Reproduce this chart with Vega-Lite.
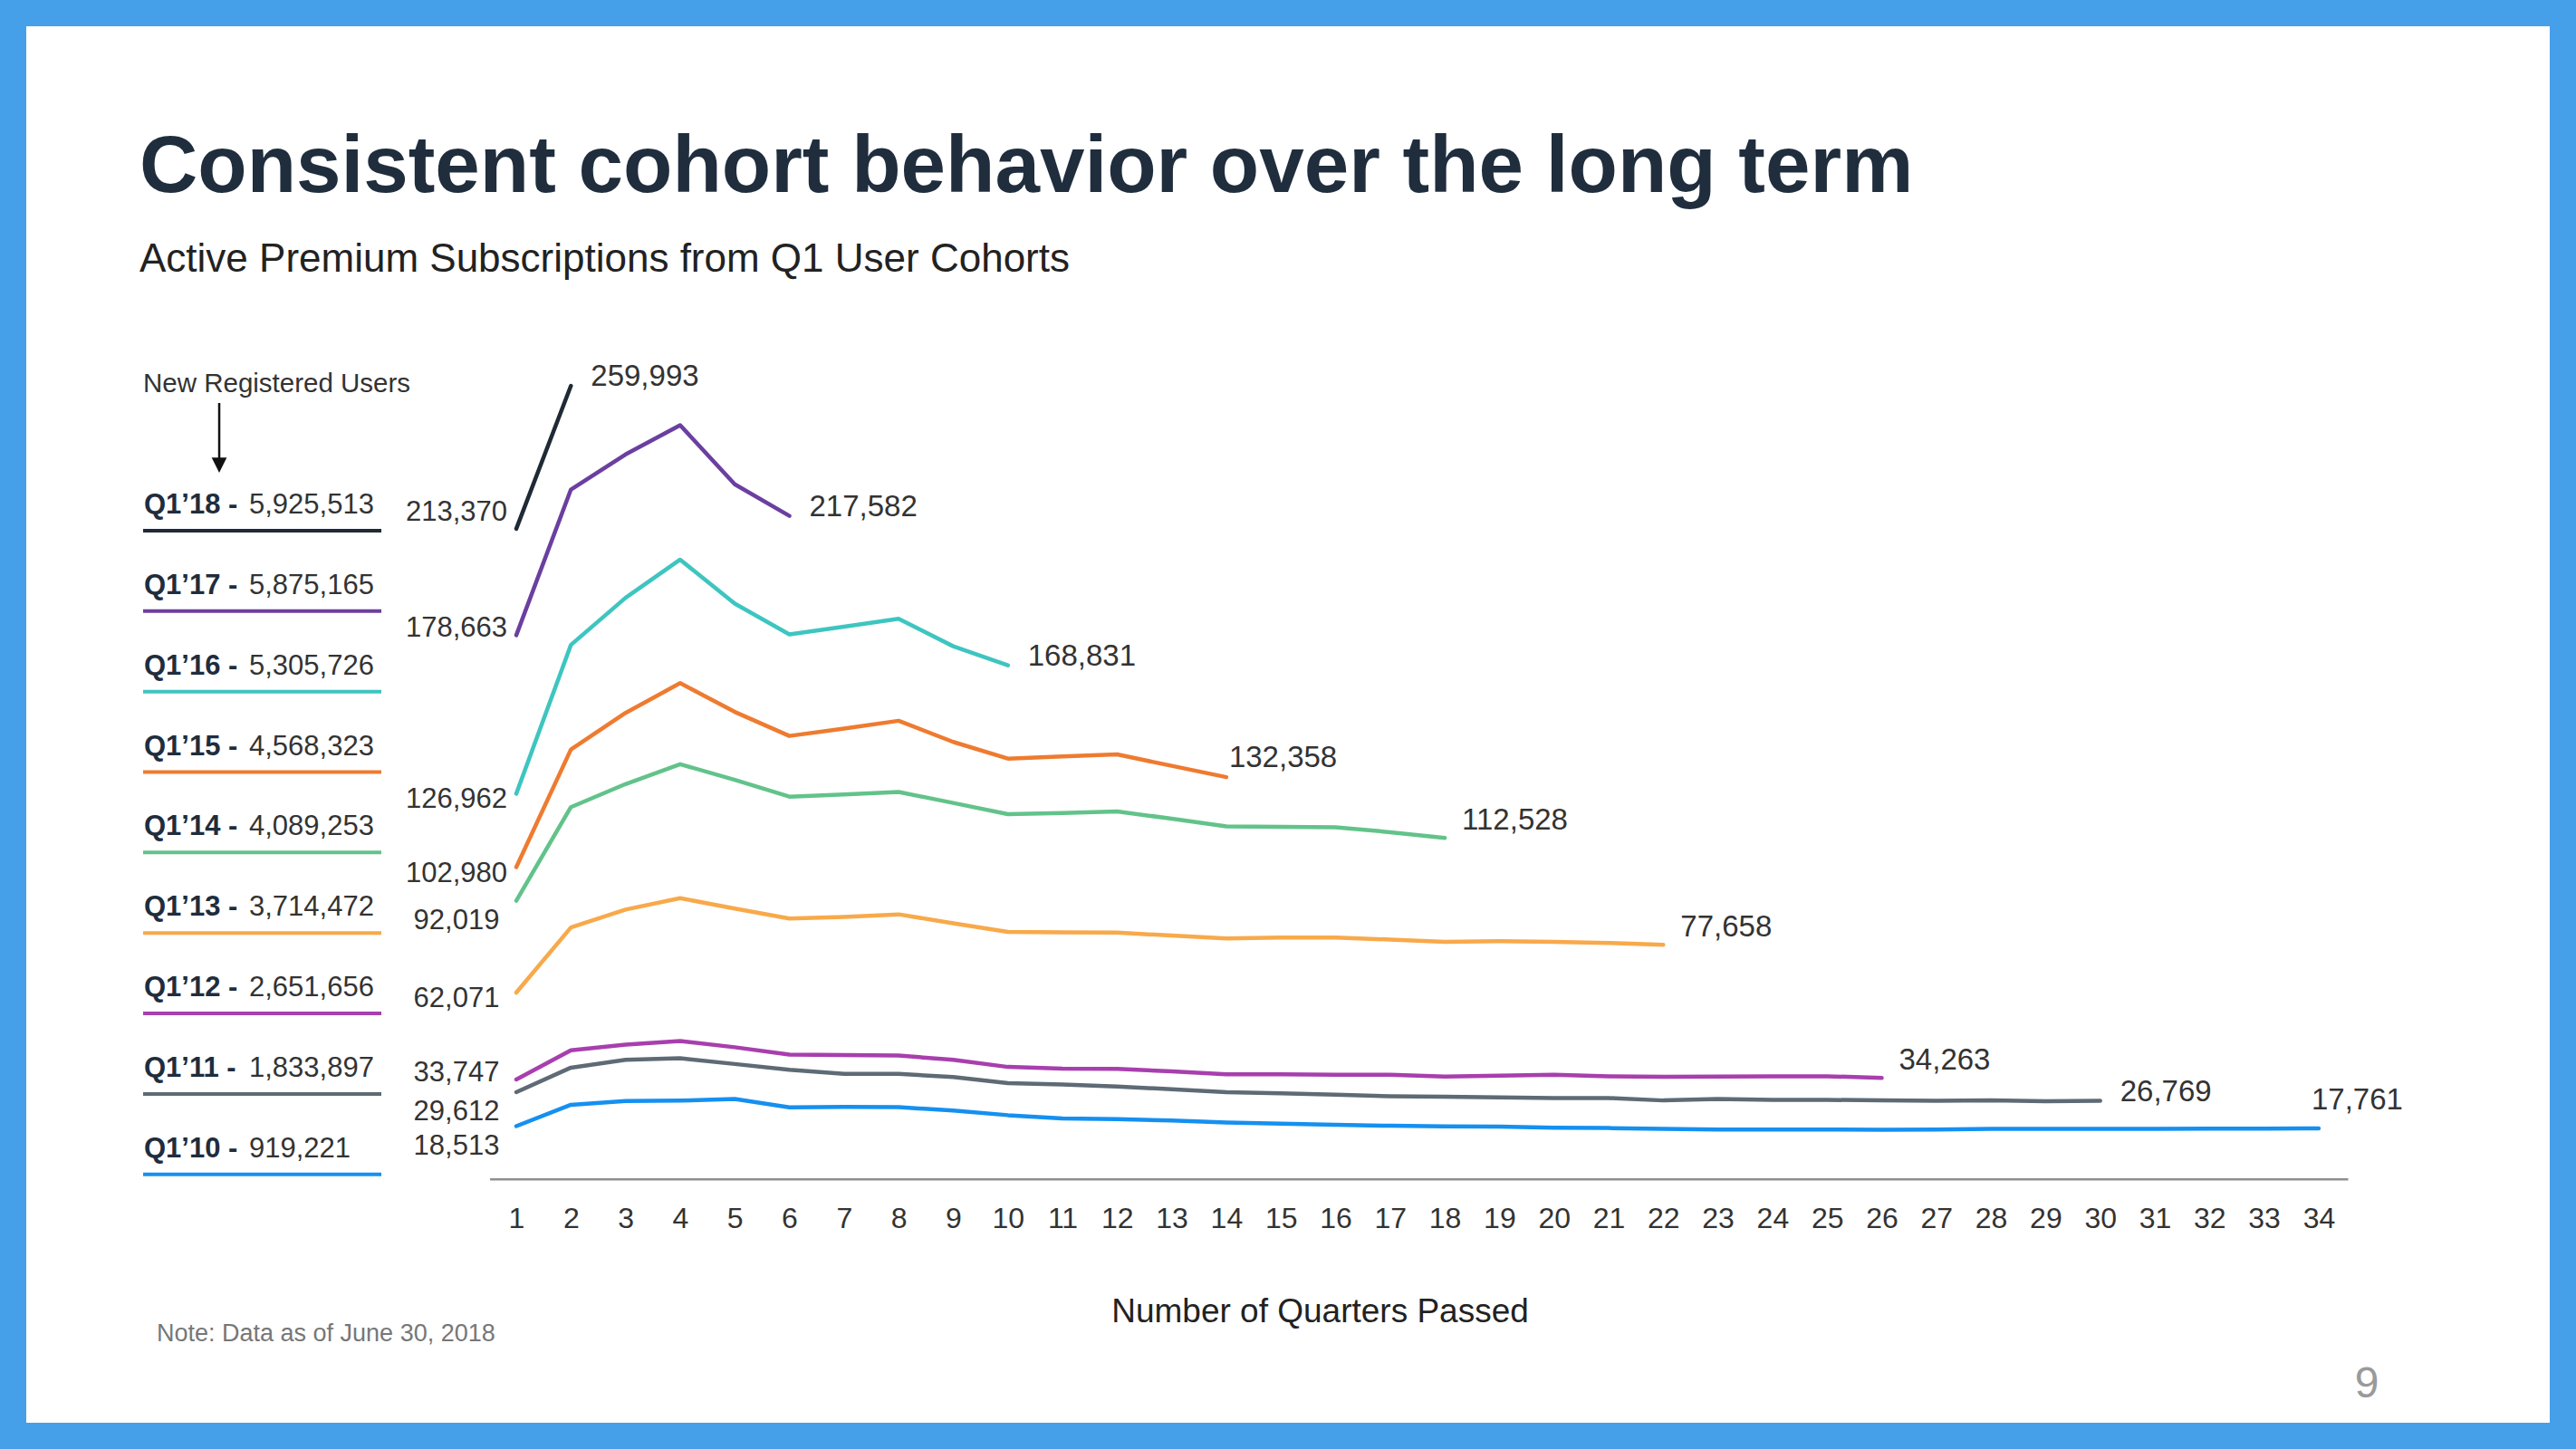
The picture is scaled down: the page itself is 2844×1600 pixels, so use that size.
{
  "$schema": "https://vega.github.io/schema/vega-lite/v6.json",
  "width": 2844,
  "height": 1600,
  "autosize": {"type": "none"},
  "padding": 0,
  "background": "#469fe9",
  "config": {
    "font": "Liberation Sans",
    "view": {"fill": "#ffffff", "stroke": "#469fe9", "strokeWidth": 58},
    "axis": {"grid": false, "domain": false, "ticks": false}
  },
  "title": {
    "text": "Consistent cohort behavior over the long term",
    "subtitle": "Active Premium Subscriptions from Q1 User Cohorts",
    "anchor": "start",
    "frame": "group",
    "orient": "top",
    "offset": -310,
    "dx": 154,
    "font": "Liberation Sans",
    "fontSize": 89,
    "fontWeight": "bold",
    "color": "#1f2d3d",
    "subtitleFont": "Liberation Sans",
    "subtitleFontSize": 44,
    "subtitleColor": "#222222",
    "subtitlePadding": 34
  },
  "datasets": {
    "series": [
      {"cohort": "Q1’18", "quarter": 1, "subs": 213370}, {"cohort": "Q1’18", "quarter": 2, "subs": 259993},
      {"cohort": "Q1’17", "quarter": 1, "subs": 178663}, {"cohort": "Q1’17", "quarter": 2, "subs": 226161}, {"cohort": "Q1’17", "quarter": 3, "subs": 237594}, {"cohort": "Q1’17", "quarter": 4, "subs": 247150}, {"cohort": "Q1’17", "quarter": 5, "subs": 227868}, {"cohort": "Q1’17", "quarter": 6, "subs": 217582},
      {"cohort": "Q1’16", "quarter": 1, "subs": 126962}, {"cohort": "Q1’16", "quarter": 2, "subs": 175481}, {"cohort": "Q1’16", "quarter": 3, "subs": 190839}, {"cohort": "Q1’16", "quarter": 4, "subs": 203295}, {"cohort": "Q1’16", "quarter": 5, "subs": 188962}, {"cohort": "Q1’16", "quarter": 6, "subs": 178894}, {"cohort": "Q1’16", "quarter": 7, "subs": 181454}, {"cohort": "Q1’16", "quarter": 8, "subs": 184013}, {"cohort": "Q1’16", "quarter": 9, "subs": 175037}, {"cohort": "Q1’16", "quarter": 10, "subs": 168831},
      {"cohort": "Q1’15", "quarter": 1, "subs": 102980}, {"cohort": "Q1’15", "quarter": 2, "subs": 141353}, {"cohort": "Q1’15", "quarter": 3, "subs": 153298}, {"cohort": "Q1’15", "quarter": 4, "subs": 163024}, {"cohort": "Q1’15", "quarter": 5, "subs": 153639}, {"cohort": "Q1’15", "quarter": 6, "subs": 145790}, {"cohort": "Q1’15", "quarter": 7, "subs": 148179}, {"cohort": "Q1’15", "quarter": 8, "subs": 150739}, {"cohort": "Q1’15", "quarter": 9, "subs": 143833}, {"cohort": "Q1’15", "quarter": 10, "subs": 138400}, {"cohort": "Q1’15", "quarter": 11, "subs": 139090}, {"cohort": "Q1’15", "quarter": 12, "subs": 139754}, {"cohort": "Q1’15", "quarter": 13, "subs": 136037}, {"cohort": "Q1’15", "quarter": 14, "subs": 132358},
      {"cohort": "Q1’14", "quarter": 1, "subs": 92019}, {"cohort": "Q1’14", "quarter": 2, "subs": 122583}, {"cohort": "Q1’14", "quarter": 3, "subs": 130091}, {"cohort": "Q1’14", "quarter": 4, "subs": 136575}, {"cohort": "Q1’14", "quarter": 5, "subs": 131456}, {"cohort": "Q1’14", "quarter": 6, "subs": 126003}, {"cohort": "Q1’14", "quarter": 7, "subs": 126678}, {"cohort": "Q1’14", "quarter": 8, "subs": 127531}, {"cohort": "Q1’14", "quarter": 9, "subs": 123927}, {"cohort": "Q1’14", "quarter": 10, "subs": 120300}, {"cohort": "Q1’14", "quarter": 11, "subs": 120647}, {"cohort": "Q1’14", "quarter": 12, "subs": 121178}, {"cohort": "Q1’14", "quarter": 13, "subs": 118785}, {"cohort": "Q1’14", "quarter": 14, "subs": 116263}, {"cohort": "Q1’14", "quarter": 15, "subs": 116130}, {"cohort": "Q1’14", "quarter": 16, "subs": 115998}, {"cohort": "Q1’14", "quarter": 17, "subs": 114405}, {"cohort": "Q1’14", "quarter": 18, "subs": 112528},
      {"cohort": "Q1’13", "quarter": 1, "subs": 62071}, {"cohort": "Q1’13", "quarter": 2, "subs": 83336}, {"cohort": "Q1’13", "quarter": 3, "subs": 89166}, {"cohort": "Q1’13", "quarter": 4, "subs": 92891}, {"cohort": "Q1’13", "quarter": 5, "subs": 89478}, {"cohort": "Q1’13", "quarter": 6, "subs": 86236}, {"cohort": "Q1’13", "quarter": 7, "subs": 86748}, {"cohort": "Q1’13", "quarter": 8, "subs": 87601}, {"cohort": "Q1’13", "quarter": 9, "subs": 84700}, {"cohort": "Q1’13", "quarter": 10, "subs": 81891}, {"cohort": "Q1’13", "quarter": 11, "subs": 81758}, {"cohort": "Q1’13", "quarter": 12, "subs": 81626}, {"cohort": "Q1’13", "quarter": 13, "subs": 80697}, {"cohort": "Q1’13", "quarter": 14, "subs": 79768}, {"cohort": "Q1’13", "quarter": 15, "subs": 80034}, {"cohort": "Q1’13", "quarter": 16, "subs": 80034}, {"cohort": "Q1’13", "quarter": 17, "subs": 79370}, {"cohort": "Q1’13", "quarter": 18, "subs": 78661}, {"cohort": "Q1’13", "quarter": 19, "subs": 78858}, {"cohort": "Q1’13", "quarter": 20, "subs": 78661}, {"cohort": "Q1’13", "quarter": 21, "subs": 78266}, {"cohort": "Q1’13", "quarter": 22, "subs": 77658},
      {"cohort": "Q1’12", "quarter": 1, "subs": 33747}, {"cohort": "Q1’12", "quarter": 2, "subs": 43235}, {"cohort": "Q1’12", "quarter": 3, "subs": 45112}, {"cohort": "Q1’12", "quarter": 4, "subs": 46307}, {"cohort": "Q1’12", "quarter": 5, "subs": 44259}, {"cohort": "Q1’12", "quarter": 6, "subs": 41870}, {"cohort": "Q1’12", "quarter": 7, "subs": 41699}, {"cohort": "Q1’12", "quarter": 8, "subs": 41528}, {"cohort": "Q1’12", "quarter": 9, "subs": 40163}, {"cohort": "Q1’12", "quarter": 10, "subs": 37832}, {"cohort": "Q1’12", "quarter": 11, "subs": 37301}, {"cohort": "Q1’12", "quarter": 12, "subs": 37168}, {"cohort": "Q1’12", "quarter": 13, "subs": 36372}, {"cohort": "Q1’12", "quarter": 14, "subs": 35443}, {"cohort": "Q1’12", "quarter": 15, "subs": 35443}, {"cohort": "Q1’12", "quarter": 16, "subs": 35310}, {"cohort": "Q1’12", "quarter": 17, "subs": 35310}, {"cohort": "Q1’12", "quarter": 18, "subs": 34690}, {"cohort": "Q1’12", "quarter": 19, "subs": 34986}, {"cohort": "Q1’12", "quarter": 20, "subs": 35282}, {"cohort": "Q1’12", "quarter": 21, "subs": 34789}, {"cohort": "Q1’12", "quarter": 22, "subs": 34592}, {"cohort": "Q1’12", "quarter": 23, "subs": 34690}, {"cohort": "Q1’12", "quarter": 24, "subs": 34789}, {"cohort": "Q1’12", "quarter": 25, "subs": 34789}, {"cohort": "Q1’12", "quarter": 26, "subs": 34263},
      {"cohort": "Q1’11", "quarter": 1, "subs": 29612}, {"cohort": "Q1’11", "quarter": 2, "subs": 37595}, {"cohort": "Q1’11", "quarter": 3, "subs": 40151}, {"cohort": "Q1’11", "quarter": 4, "subs": 40663}, {"cohort": "Q1’11", "quarter": 5, "subs": 38788}, {"cohort": "Q1’11", "quarter": 6, "subs": 36914}, {"cohort": "Q1’11", "quarter": 7, "subs": 35551}, {"cohort": "Q1’11", "quarter": 8, "subs": 35551}, {"cohort": "Q1’11", "quarter": 9, "subs": 34528}, {"cohort": "Q1’11", "quarter": 10, "subs": 32523}, {"cohort": "Q1’11", "quarter": 11, "subs": 32125}, {"cohort": "Q1’11", "quarter": 12, "subs": 31461}, {"cohort": "Q1’11", "quarter": 13, "subs": 30532}, {"cohort": "Q1’11", "quarter": 14, "subs": 29603}, {"cohort": "Q1’11", "quarter": 15, "subs": 29205}, {"cohort": "Q1’11", "quarter": 16, "subs": 28807}, {"cohort": "Q1’11", "quarter": 17, "subs": 28276}, {"cohort": "Q1’11", "quarter": 18, "subs": 28100}, {"cohort": "Q1’11", "quarter": 19, "subs": 27888}, {"cohort": "Q1’11", "quarter": 20, "subs": 27691}, {"cohort": "Q1’11", "quarter": 21, "subs": 27691}, {"cohort": "Q1’11", "quarter": 22, "subs": 26902}, {"cohort": "Q1’11", "quarter": 23, "subs": 27395}, {"cohort": "Q1’11", "quarter": 24, "subs": 27099}, {"cohort": "Q1’11", "quarter": 25, "subs": 27099}, {"cohort": "Q1’11", "quarter": 26, "subs": 26902}, {"cohort": "Q1’11", "quarter": 27, "subs": 26769}, {"cohort": "Q1’11", "quarter": 28, "subs": 26966}, {"cohort": "Q1’11", "quarter": 29, "subs": 26670}, {"cohort": "Q1’11", "quarter": 30, "subs": 26769},
      {"cohort": "Q1’10", "quarter": 1, "subs": 18513}, {"cohort": "Q1’10", "quarter": 2, "subs": 25495}, {"cohort": "Q1’10", "quarter": 3, "subs": 26688}, {"cohort": "Q1’10", "quarter": 4, "subs": 26858}, {"cohort": "Q1’10", "quarter": 5, "subs": 27370}, {"cohort": "Q1’10", "quarter": 6, "subs": 24643}, {"cohort": "Q1’10", "quarter": 7, "subs": 24813}, {"cohort": "Q1’10", "quarter": 8, "subs": 24700}, {"cohort": "Q1’10", "quarter": 9, "subs": 23621}, {"cohort": "Q1’10", "quarter": 10, "subs": 22100}, {"cohort": "Q1’10", "quarter": 11, "subs": 21000}, {"cohort": "Q1’10", "quarter": 12, "subs": 20800}, {"cohort": "Q1’10", "quarter": 13, "subs": 20350}, {"cohort": "Q1’10", "quarter": 14, "subs": 19700}, {"cohort": "Q1’10", "quarter": 15, "subs": 19300}, {"cohort": "Q1’10", "quarter": 16, "subs": 18950}, {"cohort": "Q1’10", "quarter": 17, "subs": 18650}, {"cohort": "Q1’10", "quarter": 18, "subs": 18450}, {"cohort": "Q1’10", "quarter": 19, "subs": 18400}, {"cohort": "Q1’10", "quarter": 20, "subs": 18000}, {"cohort": "Q1’10", "quarter": 21, "subs": 17900}, {"cohort": "Q1’10", "quarter": 22, "subs": 17650}, {"cohort": "Q1’10", "quarter": 23, "subs": 17420}, {"cohort": "Q1’10", "quarter": 24, "subs": 17400}, {"cohort": "Q1’10", "quarter": 25, "subs": 17400}, {"cohort": "Q1’10", "quarter": 26, "subs": 17350}, {"cohort": "Q1’10", "quarter": 27, "subs": 17400}, {"cohort": "Q1’10", "quarter": 28, "subs": 17600}, {"cohort": "Q1’10", "quarter": 29, "subs": 17600}, {"cohort": "Q1’10", "quarter": 30, "subs": 17600}, {"cohort": "Q1’10", "quarter": 31, "subs": 17650}, {"cohort": "Q1’10", "quarter": 32, "subs": 17720}, {"cohort": "Q1’10", "quarter": 33, "subs": 17740}, {"cohort": "Q1’10", "quarter": 34, "subs": 17761}
    ],
    "cohorts": [
      {"cohort": "Q1’18", "year": 18, "users": 5925513},
      {"cohort": "Q1’17", "year": 17, "users": 5875165},
      {"cohort": "Q1’16", "year": 16, "users": 5305726},
      {"cohort": "Q1’15", "year": 15, "users": 4568323},
      {"cohort": "Q1’14", "year": 14, "users": 4089253},
      {"cohort": "Q1’13", "year": 13, "users": 3714472},
      {"cohort": "Q1’12", "year": 12, "users": 2651656},
      {"cohort": "Q1’11", "year": 11, "users": 1833897},
      {"cohort": "Q1’10", "year": 10, "users": 919221}
    ],
    "notes": [
      {"role": "header", "label": "New Registered Users"},
      {"role": "note", "label": "Note: Data as of June 30, 2018"},
      {"role": "page", "label": "9"}
    ]
  },
  "layer": [
    {
      "data": {"name": "series"},
      "mark": {"type": "line", "strokeWidth": 4.5, "strokeCap": "round", "strokeJoin": "round"},
      "encoding": {
        "x": {
          "field": "quarter", "type": "quantitative",
          "scale": {"domain": [-8.4527, 38.711], "nice": false, "zero": false},
          "axis": {
            "values": [1,2,3,4,5,6,7,8,9,10,11,12,13,14,15,16,17,18,19,20,21,22,23,24,25,26,27,28,29,30,31,32,33,34],
            "format": "d", "offset": -298, "domain": false, "ticks": false, "tickSize": 0, "grid": false,
            "labelFontSize": 32, "labelColor": "#333333", "labelPadding": 28,
            "labelFlush": false, "labelOverlap": false, "labelBound": false,
            "title": "Number of Quarters Passed", "titleFontSize": 37, "titleFontWeight": "normal",
            "titleColor": "#222222", "titleX": 1457, "titleY": 157, "titleBaseline": "alphabetic"
          }
        },
        "y": {"field": "subs", "type": "quantitative", "scale": {"domain": [-86785, 385833], "nice": false, "zero": false}, "axis": null},
        "color": {
          "field": "cohort", "type": "nominal",
          "scale": {
            "domain": ["Q1’18", "Q1’17", "Q1’16", "Q1’15", "Q1’14", "Q1’13", "Q1’12", "Q1’11", "Q1’10"],
            "range": ["#1f2a36", "#6b3fa0", "#3ec5c0", "#ee7b30", "#62c38a", "#f8a94a", "#a83fae", "#5e6a74", "#1590f0"]
          },
          "legend": null
        }
      }
    },
    {
      "data": {"name": "series"},
      "transform": [{"filter": "datum.quarter === 1"}, {"aggregate": [{"op": "count", "as": "n"}]}],
      "mark": {"type": "rule", "color": "#8f8f8f", "strokeWidth": 2.5, "yOffset": -4},
      "encoding": {
        "x": {"datum": 0.52, "type": "quantitative"},
        "x2": {"datum": 34.54},
        "y": {"datum": 0, "type": "quantitative", "scale": {"domain": [-86785, 385833], "nice": false, "zero": false}, "axis": null}
      }
    },
    {
      "data": {"name": "series"},
      "transform": [{"filter": "datum.quarter === 1"}, {"filter": {"field": "cohort", "oneOf": ["Q1’18"]}}],
      "mark": {"type": "text", "align": "center", "baseline": "middle", "dx": -66, "dy": -18, "fontSize": 31, "color": "#333333"},
      "encoding": {
        "x": {"field": "quarter", "type": "quantitative"},
        "y": {"field": "subs", "type": "quantitative", "scale": {"domain": [-86785, 385833], "nice": false, "zero": false}, "axis": null},
        "text": {"field": "subs", "type": "quantitative", "format": ","}
      }
    },
    {
      "data": {"name": "series"},
      "transform": [{"filter": "datum.quarter === 1"}, {"filter": {"field": "cohort", "oneOf": ["Q1’17", "Q1’12"]}}],
      "mark": {"type": "text", "align": "center", "baseline": "middle", "dx": -66, "dy": -7, "fontSize": 31, "color": "#333333"},
      "encoding": {
        "x": {"field": "quarter", "type": "quantitative"},
        "y": {"field": "subs", "type": "quantitative", "scale": {"domain": [-86785, 385833], "nice": false, "zero": false}, "axis": null},
        "text": {"field": "subs", "type": "quantitative", "format": ","}
      }
    },
    {
      "data": {"name": "series"},
      "transform": [{"filter": "datum.quarter === 1"}, {"filter": {"field": "cohort", "oneOf": ["Q1’16", "Q1’15", "Q1’13"]}}],
      "mark": {"type": "text", "align": "center", "baseline": "middle", "dx": -66, "dy": 7, "fontSize": 31, "color": "#333333"},
      "encoding": {
        "x": {"field": "quarter", "type": "quantitative"},
        "y": {"field": "subs", "type": "quantitative", "scale": {"domain": [-86785, 385833], "nice": false, "zero": false}, "axis": null},
        "text": {"field": "subs", "type": "quantitative", "format": ","}
      }
    },
    {
      "data": {"name": "series"},
      "transform": [{"filter": "datum.quarter === 1"}, {"filter": {"field": "cohort", "oneOf": ["Q1’14", "Q1’11", "Q1’10"]}}],
      "mark": {"type": "text", "align": "center", "baseline": "middle", "dx": -66, "dy": 22, "fontSize": 31, "color": "#333333"},
      "encoding": {
        "x": {"field": "quarter", "type": "quantitative"},
        "y": {"field": "subs", "type": "quantitative", "scale": {"domain": [-86785, 385833], "nice": false, "zero": false}, "axis": null},
        "text": {"field": "subs", "type": "quantitative", "format": ","}
      }
    },
    {
      "data": {"name": "series"},
      "transform": [
        {"joinaggregate": [{"op": "max", "field": "quarter", "as": "last"}], "groupby": ["cohort"]},
        {"filter": "datum.quarter === datum.last"},
        {"filter": {"field": "cohort", "oneOf": ["Q1’18", "Q1’17", "Q1’16", "Q1’11"]}}
      ],
      "mark": {"type": "text", "align": "left", "baseline": "middle", "dx": 22, "dy": -10, "fontSize": 33, "color": "#333333"},
      "encoding": {
        "x": {"field": "quarter", "type": "quantitative"},
        "y": {"field": "subs", "type": "quantitative", "scale": {"domain": [-86785, 385833], "nice": false, "zero": false}, "axis": null},
        "text": {"field": "subs", "type": "quantitative", "format": ","}
      }
    },
    {
      "data": {"name": "series"},
      "transform": [
        {"joinaggregate": [{"op": "max", "field": "quarter", "as": "last"}], "groupby": ["cohort"]},
        {"filter": "datum.quarter === datum.last"},
        {"filter": {"field": "cohort", "oneOf": ["Q1’14", "Q1’13", "Q1’12"]}}
      ],
      "mark": {"type": "text", "align": "left", "baseline": "middle", "dx": 19, "dy": -19, "fontSize": 33, "color": "#333333"},
      "encoding": {
        "x": {"field": "quarter", "type": "quantitative"},
        "y": {"field": "subs", "type": "quantitative", "scale": {"domain": [-86785, 385833], "nice": false, "zero": false}, "axis": null},
        "text": {"field": "subs", "type": "quantitative", "format": ","}
      }
    },
    {
      "data": {"name": "series"},
      "transform": [
        {"joinaggregate": [{"op": "max", "field": "quarter", "as": "last"}], "groupby": ["cohort"]},
        {"filter": "datum.quarter === datum.last"},
        {"filter": {"field": "cohort", "oneOf": ["Q1’15"]}}
      ],
      "mark": {"type": "text", "align": "left", "baseline": "middle", "dx": 3, "dy": -21, "fontSize": 33, "color": "#333333"},
      "encoding": {
        "x": {"field": "quarter", "type": "quantitative"},
        "y": {"field": "subs", "type": "quantitative", "scale": {"domain": [-86785, 385833], "nice": false, "zero": false}, "axis": null},
        "text": {"field": "subs", "type": "quantitative", "format": ","}
      }
    },
    {
      "data": {"name": "series"},
      "transform": [
        {"joinaggregate": [{"op": "max", "field": "quarter", "as": "last"}], "groupby": ["cohort"]},
        {"filter": "datum.quarter === datum.last"},
        {"filter": {"field": "cohort", "oneOf": ["Q1’10"]}}
      ],
      "mark": {"type": "text", "align": "left", "baseline": "middle", "dx": -8, "dy": -31, "fontSize": 33, "color": "#333333"},
      "encoding": {
        "x": {"field": "quarter", "type": "quantitative"},
        "y": {"field": "subs", "type": "quantitative", "scale": {"domain": [-86785, 385833], "nice": false, "zero": false}, "axis": null},
        "text": {"field": "subs", "type": "quantitative", "format": ","}
      }
    },
    {
      "data": {"name": "cohorts"},
      "transform": [{"calculate": "datum.cohort + ' -'", "as": "tag"}],
      "mark": {"type": "text", "align": "left", "baseline": "middle", "dy": 2, "fontSize": 31, "fontWeight": "bold", "color": "#1f2d3d"},
      "encoding": {
        "x": {"datum": -5.816, "type": "quantitative"},
        "y": {"field": "year", "type": "quantitative", "scale": {"domain": [6.249, 24.258], "nice": false, "zero": false}, "axis": null},
        "text": {"field": "tag", "type": "nominal"}
      }
    },
    {
      "data": {"name": "cohorts"},
      "mark": {"type": "text", "align": "left", "baseline": "middle", "dy": 2, "fontSize": 31, "color": "#333333"},
      "encoding": {
        "x": {"datum": -3.892, "type": "quantitative"},
        "y": {"field": "year", "type": "quantitative", "scale": {"domain": [6.249, 24.258], "nice": false, "zero": false}, "axis": null},
        "text": {"field": "users", "type": "quantitative", "format": ","}
      }
    },
    {
      "data": {"name": "cohorts"},
      "mark": {"type": "rule", "strokeWidth": 4, "yOffset": 30},
      "encoding": {
        "x": {"datum": -5.833, "type": "quantitative"},
        "x2": {"datum": -1.471},
        "y": {"field": "year", "type": "quantitative", "scale": {"domain": [6.249, 24.258], "nice": false, "zero": false}, "axis": null},
        "color": {"field": "cohort", "type": "nominal"}
      }
    },
    {
      "data": {"name": "notes"},
      "transform": [{"filter": "datum.role === 'header'"}],
      "mark": {"type": "text", "align": "left", "baseline": "alphabetic", "fontSize": 29.5, "color": "#333333"},
      "encoding": {
        "x": {"datum": -5.833, "type": "quantitative"},
        "y": {"datum": 19.381, "type": "quantitative", "scale": {"domain": [6.249, 24.258], "nice": false, "zero": false}, "axis": null},
        "text": {"field": "label", "type": "nominal"}
      }
    },
    {
      "data": {"name": "notes"},
      "transform": [{"filter": "datum.role === 'header'"}],
      "mark": {"type": "rule", "strokeWidth": 2.5, "color": "#111111"},
      "encoding": {
        "x": {"datum": -4.439, "type": "quantitative"},
        "y": {"datum": 19.249, "type": "quantitative", "scale": {"domain": [6.249, 24.258], "nice": false, "zero": false}, "axis": null},
        "y2": {"datum": 18.55}
      }
    },
    {
      "data": {"name": "notes"},
      "transform": [{"filter": "datum.role === 'header'"}],
      "mark": {"type": "point", "shape": "M-1,-1L1,-1L0,1Z", "filled": true, "size": 280, "color": "#111111", "opacity": 1},
      "encoding": {
        "x": {"datum": -4.439, "type": "quantitative"},
        "y": {"datum": 18.478, "type": "quantitative", "scale": {"domain": [6.249, 24.258], "nice": false, "zero": false}, "axis": null}
      }
    },
    {
      "data": {"name": "notes"},
      "transform": [{"filter": "datum.role === 'note'"}],
      "mark": {"type": "text", "align": "left", "baseline": "alphabetic", "fontSize": 27, "color": "#777777"},
      "encoding": {
        "x": {"datum": -5.584, "type": "quantitative"},
        "y": {"datum": 7.588, "type": "quantitative", "scale": {"domain": [6.249, 24.258], "nice": false, "zero": false}, "axis": null},
        "text": {"field": "label", "type": "nominal"}
      }
    },
    {
      "data": {"name": "notes"},
      "transform": [{"filter": "datum.role === 'page'"}],
      "mark": {"type": "text", "align": "center", "baseline": "alphabetic", "fontSize": 48, "color": "#9a9a9a"},
      "encoding": {
        "x": {"datum": 34.881, "type": "quantitative"},
        "y": {"datum": 6.89, "type": "quantitative", "scale": {"domain": [6.249, 24.258], "nice": false, "zero": false}, "axis": null},
        "text": {"field": "label", "type": "nominal"}
      }
    }
  ],
  "resolve": {"scale": {"y": "independent"}}
}
